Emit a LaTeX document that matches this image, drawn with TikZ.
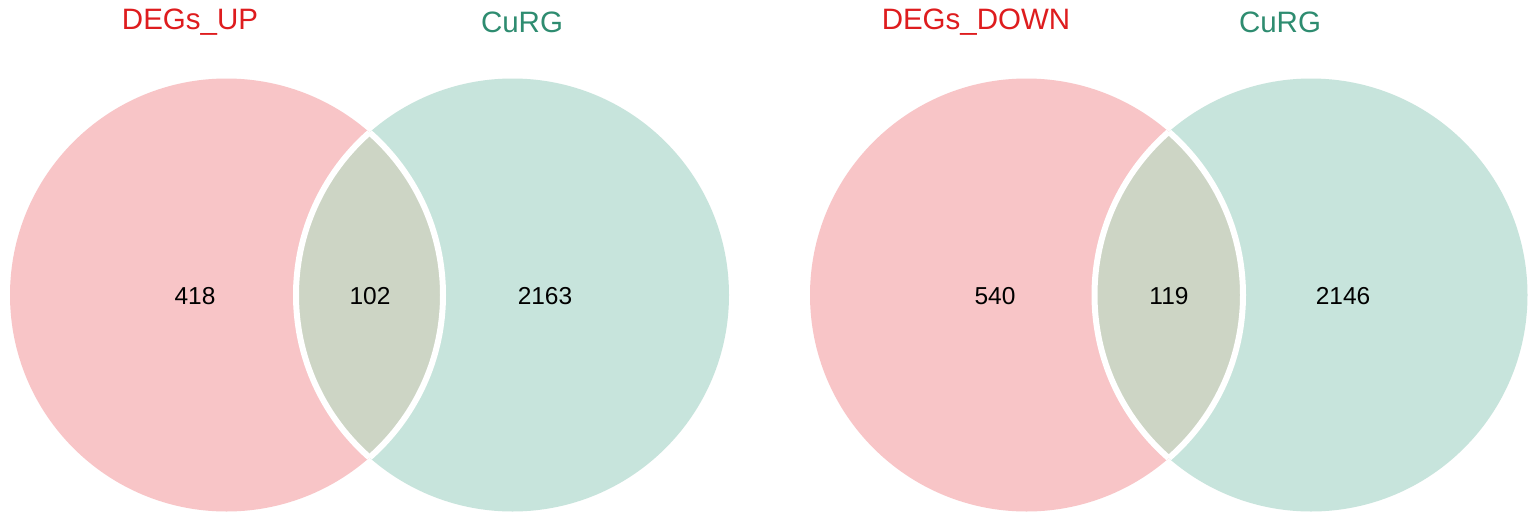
\documentclass[tikz,border=0pt]{standalone}
\usepackage{fontspec}
\setmainfont{Liberation Sans}
\definecolor{pinkc}{RGB}{248,197,199}
\definecolor{tealc}{RGB}{199,228,220}
\definecolor{lensc}{RGB}{205,213,197}
\definecolor{redt}{RGB}{222,28,30}
\definecolor{greent}{RGB}{46,140,112}
\tikzset{
  numlab/.style={font=\fontsize{24.5}{28}\selectfont, text=black},
  titlered/.style={font=\fontsize{29.5}{34}\selectfont, text=redt},
  titlegreen/.style={font=\fontsize{29.5}{34}\selectfont, text=greent},
}
\newcommand{\venn}[3]{%
  % #1 left cx, #2 right cx, #3 r
  \fill[pinkc] (#1,295) circle (#3);
  \fill[tealc] (#2,295) circle (#3);
  \begin{scope}
    \clip (#1,295) circle (#3);
    \fill[lensc] (#2,295) circle (#3);
    \draw[white, line width=6pt] (#2,295) circle (#3);
  \end{scope}
  \begin{scope}
    \clip (#2,295) circle (#3);
    \draw[white, line width=6pt] (#1,295) circle (#3);
  \end{scope}
}
\begin{document}
\begin{tikzpicture}[x=1pt,y=-1pt]
\useasboundingbox (0,0) rectangle (1535,517);
\fill[white] (0,0) rectangle (1535,517);
\venn{226.5}{512.5}{216.5}
\venn{1026.5}{1311}{216.5}
\node[titlered] (t1) at (190,22) {DEGs\_UP};
\node[titlegreen] (t2) at (522,22) {CuRG};
\node[titlered] (t3) at (976,22) {DEGs\_DOWN};
\node[titlegreen] (t4) at (1280,22) {CuRG};
\node[numlab] (a1) at (195,296) {418};
\node[numlab] (a2) at (370,296) {102};
\node[numlab] (a3) at (545,296) {2163};
\node[numlab] (b1) at (995,296) {540};
\node[numlab] (b2) at (1169,296) {119};
\node[numlab] (b3) at (1343,296) {2146};
\end{tikzpicture}
\end{document}
